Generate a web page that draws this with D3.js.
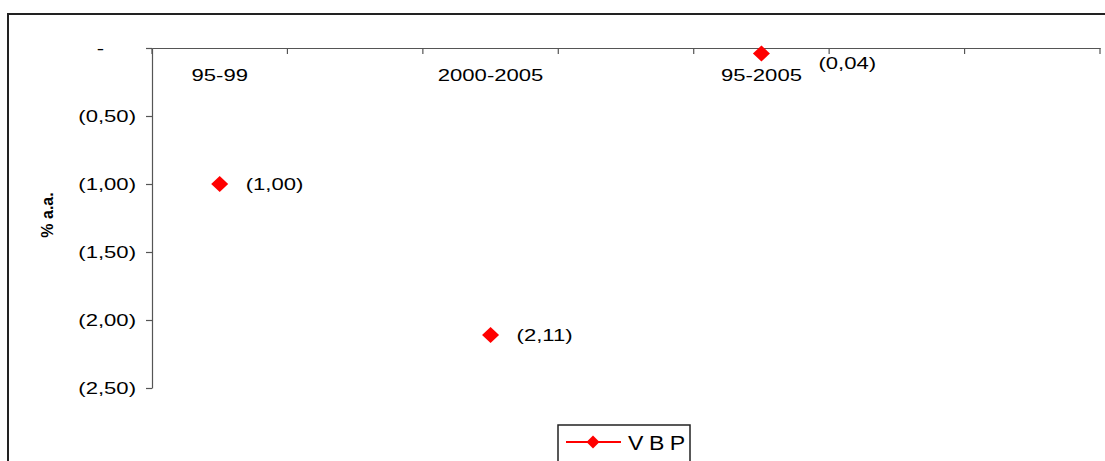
<!DOCTYPE html>
<html>
<head>
<meta charset="utf-8">
<script src="https://cdn.jsdelivr.net/npm/d3@7"></script>
<style>
  html, body { margin: 0; padding: 0; background: #fff; }
  svg { display: block; font-family: "Liberation Sans", Arial, sans-serif; }
</style>
</head>
<body>
<svg id="chart" width="1105" height="461"></svg>
<script>
// ---- data ----
const categories = ["95-99", " 1", "2000-2005", " 3", "95-2005", " 5", " 6"];
const tickLabels = ["95-99", "", "2000-2005", "", "95-2005", "", ""];
const seriesName = "VBP";
const pointCategories = ["95-99", "2000-2005", "95-2005"];
const seriesValues = [-1.00, -2.11, -0.04];
const valueLabels = ["(1,00)", "(2,11)", "(0,04)"];
const yTicks = [0, -0.5, -1.0, -1.5, -2.0, -2.5];
const yTickLabels = ["-", "(0,50)", "(1,00)", "(1,50)", "(2,00)", "(2,50)"];

// ---- layout ----
const svg = d3.select("#chart");
const SX = 1.3; // horizontal text stretch
const plot = { left: 152, right: 1100, top: 48, bottom: 388 };

// outer frame
svg.append("rect")
  .attr("x", 8).attr("y", 14).attr("width", 1120).attr("height", 480)
  .attr("fill", "none").attr("stroke", "#222").attr("stroke-width", 2);

const x = d3.scaleBand().domain(categories).range([plot.left, plot.right]).padding(0);
const y = d3.scaleLinear().domain([0, -2.5]).range([plot.top, plot.bottom]);

// y axis
const yAxis = svg.append("g")
  .attr("transform", `translate(${plot.left},0)`)
  .call(d3.axisLeft(y).tickValues(yTicks)
    .tickFormat((d, i) => yTickLabels[i]).tickSize(6).tickSizeOuter(0));
yAxis.select(".domain").attr("stroke", "#555").attr("stroke-width", 1.2);
yAxis.selectAll(".tick line").attr("stroke", "#555").attr("stroke-width", 1.2);
yAxis.selectAll(".tick text")
  .attr("font-size", 17).attr("fill", "#000")
  .attr("font-family", '"Liberation Sans", Arial, sans-serif')
  .attr("x", (d, i) => i === 0 ? -48 / SX : -16 / SX)
  .attr("transform", `scale(${SX},1)`);

// x axis (at zero, top)
const xAxis = svg.append("g")
  .attr("transform", `translate(0,${y(0)})`)
  .call(d3.axisBottom(x).tickSize(0).tickFormat((d, i) => tickLabels[i]));
xAxis.select(".domain").attr("stroke", "#555").attr("stroke-width", 1.2);
xAxis.selectAll(".tick text")
  .attr("font-size", 17).attr("fill", "#000")
  .attr("font-family", '"Liberation Sans", Arial, sans-serif')
  .attr("y", 21)
  .attr("transform", `scale(${SX},1)`);
// boundary tick marks between categories
const bounds = categories.map(c => x(c)).concat([x(categories[categories.length - 1]) + x.bandwidth()]);
xAxis.selectAll(".btick").data(bounds).enter().append("line")
  .attr("class", "btick")
  .attr("x1", d => d).attr("x2", d => d)
  .attr("y1", 0).attr("y2", 6)
  .attr("stroke", "#555").attr("stroke-width", 1.2);

// y axis title
svg.append("text")
  .attr("transform", "translate(53,215) rotate(-90)")
  .attr("text-anchor", "middle")
  .attr("font-size", 16).attr("font-weight", "bold")
  .text("% a.a.");

// points
const diamond = (cx, cy, w, h) =>
  `M${cx},${cy - h / 2}L${cx + w / 2},${cy}L${cx},${cy + h / 2}L${cx - w / 2},${cy}Z`;
const pts = pointCategories.map((c, i) => ({
  cx: x(c) + x.bandwidth() / 2, cy: y(seriesValues[i]), label: valueLabels[i], i
}));
svg.selectAll(".pt").data(pts).enter().append("path")
  .attr("class", "pt")
  .attr("d", d => diamond(d.cx, d.cy, 17, 16))
  .attr("fill", "#ff0000");

// value labels
svg.selectAll(".vl").data(pts).enter().append("text")
  .attr("class", "vl")
  .attr("transform", d => {
    const dx = d.i === 2 ? 57 : 26;
    const dy = d.i === 2 ? 10 : 0;
    return `translate(${d.cx + dx},${d.cy + dy}) scale(${SX},1)`;
  })
  .attr("dy", "0.35em")
  .attr("font-size", 17)
  .text(d => d.label);

// legend
const lg = svg.append("g");
lg.append("rect")
  .attr("x", 558).attr("y", 425).attr("width", 132).attr("height", 60)
  .attr("fill", "#fff").attr("stroke", "#222").attr("stroke-width", 1.5);
lg.append("line")
  .attr("x1", 566).attr("x2", 621).attr("y1", 442).attr("y2", 442)
  .attr("stroke", "#ff0000").attr("stroke-width", 2);
lg.append("path").attr("d", diamond(593, 442, 13, 13)).attr("fill", "#ff0000");
lg.append("text")
  .attr("transform", `translate(628,442) scale(1.1,1)`)
  .attr("dy", "0.36em")
  .attr("font-size", 21)
  .attr("letter-spacing", 5)
  .text(seriesName);
</script>
</body>
</html>
